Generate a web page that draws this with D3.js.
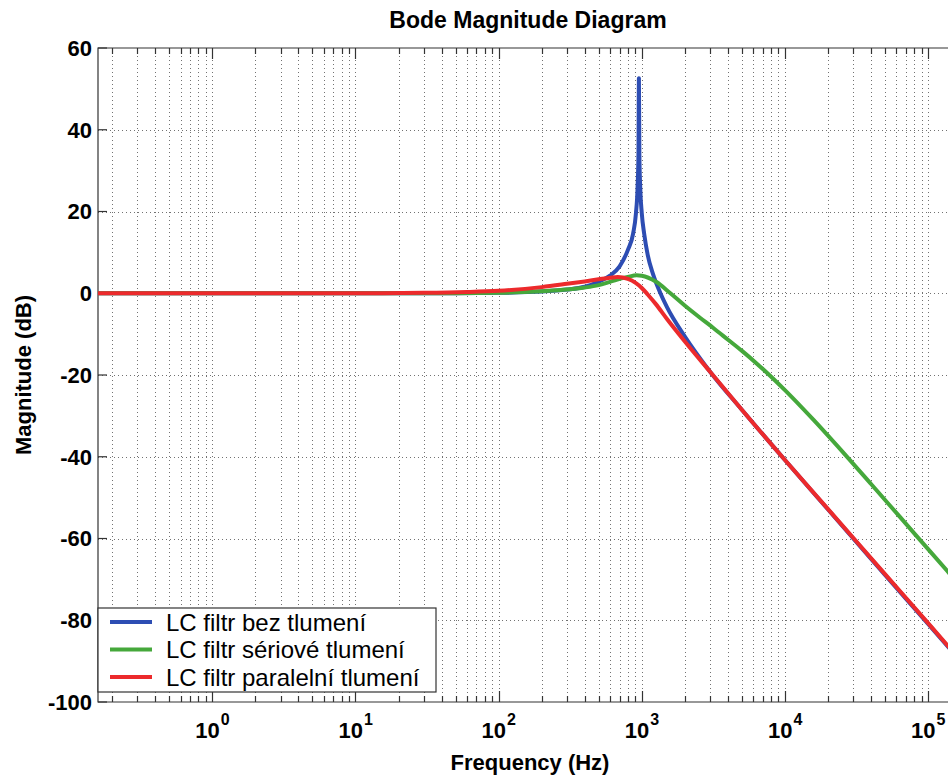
<!DOCTYPE html>
<html>
<head>
<meta charset="utf-8">
<script src="https://cdn.jsdelivr.net/npm/d3@7"></script>
<style>
  body { margin: 0; background: #fff; }
  text { font-family: Arial, "Liberation Sans", Helvetica, sans-serif; }
</style>
</head>
<body>
<div id="chart"></div>
<script>
// frequency (Hz) / magnitude (dB)
const bezFreq = [0.159, 10, 50, 100, 200, 300, 400, 500, 600, 700, 800, 870, 910, 935, 948, 955, 962, 975, 1000, 1040, 1100, 1200, 1350, 1500, 2000, 3000, 5000, 10000, 20000, 50000, 100000, 159000];
const bezDb = [0, 0, 0, 0.1, 0.4, 0.9, 1.6, 2.8, 4.3, 6.6, 10.6, 14.6, 19.5, 26, 34, 52.6, 34, 26, 19.6, 14.5, 9.4, 4.6, 0, -3.4, -10.6, -19.2, -28.5, -40.8, -52.9, -68.9, -80.9, -89];

const seriovFreq = [0.159, 10, 50, 100, 200, 300, 400, 500, 600, 800, 920, 1000, 1260, 1585, 1995, 2512, 3162, 3981, 5012, 6310, 7943, 10000, 15850, 25120, 39810, 63100, 100000, 158500];
const seriovDb = [0, 0, 0, 0.1, 0.5, 0.9, 1.4, 2.0, 2.8, 4.0, 4.4, 4.3, 2.8, 0.0, -3.0, -5.8, -8.5, -11.3, -14.1, -17.1, -20.3, -23.7, -31.0, -38.7, -46.6, -54.6, -62.6, -70.6];

const paralFreq = [0.159, 1, 10, 30, 60, 100, 200, 300, 400, 500, 600, 680, 800, 900, 1000, 1100, 1250, 1500, 2000, 3000, 5000, 10000, 20000, 50000, 100000, 159000];
const paralDb = [0, 0, 0, 0.1, 0.3, 0.6, 1.5, 2.3, 2.9, 3.4, 3.8, 4.0, 3.5, 2.6, 1.3, -0.3, -2.6, -6.3, -11.8, -19.2, -28.5, -40.8, -52.8, -68.7, -80.7, -88.8];

const seriesNames = ["LC filtr bez tlumení", "LC filtr sériové tlumení", "LC filtr paralelní tlumení"];
const seriesColors = ["#2d4db3", "#45a83b", "#ec2a2c"];
const yTicks = [-100, -80, -60, -40, -20, 0, 20, 40, 60];
const xDecades = [0, 1, 2, 3, 4, 5];

const series = [
    { name: seriesNames[0], color: seriesColors[0], values: bezFreq.map((f, i) => ({ f: f, db: bezDb[i] })) },
    { name: seriesNames[1], color: seriesColors[1], values: seriovFreq.map((f, i) => ({ f: f, db: seriovDb[i] })) },
    { name: seriesNames[2], color: seriesColors[2], values: paralFreq.map((f, i) => ({ f: f, db: paralDb[i] })) }
];

const width = 948, height = 778;
const pLeft = 98, pTop = 48, pRight = 957, pBottom = 702;

const svg = d3.select('#chart').append('svg')
    .attr('width', width)
    .attr('height', height);

const xScale = d3.scaleLog()
    .domain([1 / (2 * Math.PI), 1e6 / (2 * Math.PI)])
    .range([pLeft, pRight]);

const yScale = d3.scaleLinear()
    .domain([-100, 60])
    .range([pBottom, pTop]);

svg.append('clipPath').attr('id', 'plot-clip')
    .append('rect')
    .attr('x', pLeft).attr('y', pTop)
    .attr('width', pRight - pLeft).attr('height', pBottom - pTop);

// grid
const grid = svg.append('g').attr('stroke', '#444').attr('stroke-width', 1)
    .attr('stroke-dasharray', '1,3').attr('opacity', 0.75);

const xGridVals = xScale.ticks().filter(v => xScale(v) > pLeft + 0.5);
grid.selectAll('.xg')
    .data(xGridVals)
    .enter()
    .append('line')
    .attr('x1', d => Math.round(xScale(d)) + 0.5)
    .attr('x2', d => Math.round(xScale(d)) + 0.5)
    .attr('y1', pTop).attr('y2', pBottom);

grid.selectAll('.yg')
    .data(yTicks.filter(v => v > -100 && v < 60))
    .enter()
    .append('line')
    .attr('x1', pLeft).attr('x2', pRight)
    .attr('y1', d => Math.round(yScale(d)) + 0.5)
    .attr('y2', d => Math.round(yScale(d)) + 0.5);

// axis frame
const axes = svg.append('g').attr('stroke', '#333').attr('stroke-width', 1.2).attr('fill', 'none');
axes.append('path')
    .attr('d', `M${pRight},${pTop}H${pLeft}V${pBottom}H${pRight}`);

// ticks on bottom & top (inward)
const isMajor = v => Math.abs(Math.log10(v) - Math.round(Math.log10(v))) < 1e-6;
axes.selectAll('.tb')
    .data(xGridVals)
    .enter()
    .append('line')
    .attr('x1', d => Math.round(xScale(d)) + 0.5)
    .attr('x2', d => Math.round(xScale(d)) + 0.5)
    .attr('y1', pBottom)
    .attr('y2', d => pBottom - (isMajor(d) ? 11 : 6));
axes.selectAll('.tt')
    .data(xGridVals)
    .enter()
    .append('line')
    .attr('x1', d => Math.round(xScale(d)) + 0.5)
    .attr('x2', d => Math.round(xScale(d)) + 0.5)
    .attr('y1', pTop)
    .attr('y2', d => pTop + (isMajor(d) ? 11 : 6));
axes.selectAll('.tl')
    .data(yTicks)
    .enter()
    .append('line')
    .attr('x1', pLeft).attr('x2', pLeft + 9)
    .attr('y1', d => yScale(d)).attr('y2', d => yScale(d));

// y tick labels
svg.append('g')
    .selectAll('text')
    .data(yTicks)
    .enter()
    .append('text')
    .attr('x', pLeft - 6)
    .attr('y', d => yScale(d))
    .attr('dy', '0.36em')
    .attr('text-anchor', 'end')
    .attr('font-size', 22)
    .attr('font-weight', 'bold')
    .text(d => d);

// x tick labels 10^k
const xl = svg.append('g').selectAll('text')
    .data(xDecades)
    .enter()
    .append('text')
    .attr('x', d => xScale(Math.pow(10, d)) - 17)
    .attr('y', 738)
    .attr('font-size', 22)
    .attr('font-weight', 'bold');
xl.append('tspan').text('10');
xl.append('tspan').attr('dx', 1).attr('dy', -13).attr('font-size', 16).text(d => d);

// curves
const line = d3.line()
    .x(d => xScale(d.f))
    .y(d => yScale(d.db))
    .curve(d3.curveMonotoneX);

svg.append('g').attr('clip-path', 'url(#plot-clip)')
    .selectAll('path')
    .data(series)
    .enter()
    .append('path')
    .attr('fill', 'none')
    .attr('stroke', d => d.color)
    .attr('stroke-width', 4)
    .attr('stroke-linejoin', 'round')
    .attr('d', d => line(d.values));

// titles
svg.append('text')
    .attr('x', 528).attr('y', 28)
    .attr('text-anchor', 'middle')
    .attr('font-size', 23).attr('font-weight', 'bold')
    .text('Bode Magnitude Diagram');

svg.append('text')
    .attr('x', 530).attr('y', 770)
    .attr('text-anchor', 'middle')
    .attr('font-size', 22).attr('font-weight', 'bold')
    .text('Frequency (Hz)');

svg.append('text')
    .attr('transform', `translate(31, ${(pTop + pBottom) / 2}) rotate(-90)`)
    .attr('text-anchor', 'middle')
    .attr('font-size', 22).attr('font-weight', 'bold')
    .text('Magnitude (dB)');

// legend
const legend = svg.append('g').attr('transform', 'translate(98, 608)');
legend.append('rect')
    .attr('x', 0).attr('y', 0)
    .attr('width', 338).attr('height', 84)
    .attr('fill', '#fff')
    .attr('stroke', '#333').attr('stroke-width', 1.2);

const items = legend.selectAll('.item')
    .data(series)
    .enter()
    .append('g')
    .attr('transform', (d, i) => `translate(0, ${14 + i * 27.5})`);
items.append('line')
    .attr('x1', 12).attr('x2', 54)
    .attr('y1', 0).attr('y2', 0)
    .attr('stroke', d => d.color)
    .attr('stroke-width', 4);
items.append('text')
    .attr('x', 68).attr('y', 0)
    .attr('dy', '0.36em')
    .attr('font-size', 24)
    .text(d => d.name);
</script>
</body>
</html>
